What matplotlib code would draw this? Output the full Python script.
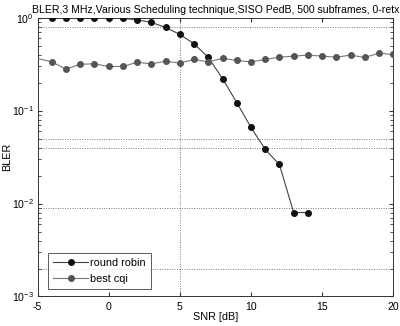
import matplotlib
matplotlib.use("Agg")
import matplotlib.pyplot as plt
from matplotlib.ticker import LogLocator, NullFormatter, FixedLocator

plt.rcParams['font.family'] = ['Liberation Sans', 'DejaVu Sans']
plt.rcParams['mathtext.fontset'] = 'custom'
plt.rcParams['mathtext.rm'] = 'Liberation Sans'
plt.rcParams['mathtext.it'] = 'Liberation Sans'
plt.rcParams['mathtext.bf'] = 'Liberation Sans'
plt.rcParams['axes.unicode_minus'] = False

title = "BLER,3 MHz,Various Scheduling technique,SISO PedB, 500 subframes, 0-retx"
rr_snr = [-4, -3, -2, -1, 0, 1, 2, 3, 4, 5, 6, 7, 8, 9, 10, 11, 12, 13, 14]
rr_bler = [1.0, 1.0, 1.0, 1.0, 1.0, 0.98, 0.947, 0.888, 0.784, 0.659, 0.522, 0.373,
           0.221, 0.122, 0.066, 0.0382, 0.0263, 0.0080, 0.0080]
cqi_snr = [-5, -4, -3, -2, -1, 0, 1, 2, 3, 4, 5, 6, 7, 8, 9, 10, 11, 12, 13, 14, 15, 16, 17, 18, 19, 20]
cqi_bler = [0.364, 0.334, 0.279, 0.315, 0.318, 0.298, 0.298, 0.331, 0.318, 0.340, 0.324,
            0.355, 0.334, 0.364, 0.346, 0.334, 0.355, 0.375, 0.385, 0.395, 0.385, 0.375,
            0.395, 0.373, 0.414, 0.401]
hlines = [0.8, 0.05, 0.04, 0.009, 0.002]
vlines = [5]
xticks = [-5, 0, 5, 10, 15, 20]

fig = plt.figure(figsize=(4.0, 3.26), dpi=100)
ax = fig.add_axes([0.094, 0.0905, 0.889, 0.8555])

for h in hlines:
    ax.axhline(h, color='#777777', linestyle=(0, (1, 1.5)), linewidth=0.7, zorder=1)
for v in vlines:
    ax.axvline(v, color='#777777', linestyle=(0, (1, 1.5)), linewidth=0.7, zorder=1)

ax.plot(rr_snr, rr_bler, color='#444444', linewidth=0.8, marker='o', markersize=4.0,
        markerfacecolor='#111111', markeredgecolor='#111111', label='round robin', zorder=3)
ax.plot(cqi_snr, cqi_bler, color='#777777', linewidth=0.8, marker='o', markersize=4.0,
        markerfacecolor='#555555', markeredgecolor='#555555', markevery=list(range(1, len(cqi_snr))),
        label='best cqi', zorder=3)

ax.set_yscale('log')
ax.set_xlim(-5, 20)
ax.set_ylim(1e-3, 1)
ax.xaxis.set_major_locator(FixedLocator(xticks))
ax.yaxis.set_major_locator(LogLocator(base=10, numticks=10))
ax.yaxis.set_minor_locator(LogLocator(base=10, subs=range(2, 10), numticks=20))
ax.yaxis.set_minor_formatter(NullFormatter())
ax.tick_params(axis='both', which='both', direction='in', top=True, right=True,
               labelsize=7.6, color='#333333')
ax.tick_params(axis='x', pad=4)
ax.tick_params(axis='y', pad=3)
ax.tick_params(which='major', length=3)
ax.tick_params(which='minor', length=2)
for s in ax.spines.values():
    s.set_linewidth(0.7)
    s.set_color('#333333')

ax.set_title(title, fontsize=7.55, pad=3)
ax.set_xlabel('SNR [dB]', fontsize=7.8, labelpad=0)
ax.set_ylabel('BLER', fontsize=7.8)
ax.yaxis.set_label_coords(-0.072, 0.5)

leg = ax.legend(loc='lower left', bbox_to_anchor=(0.024, 0.02), fontsize=7.8, frameon=True,
                fancybox=False, edgecolor='#333333', handlelength=3.2, borderpad=0.45,
                labelspacing=0.55, handletextpad=0.2, borderaxespad=0.2)
leg.get_frame().set_linewidth(0.7)

fig.savefig('out.png', dpi=100)
